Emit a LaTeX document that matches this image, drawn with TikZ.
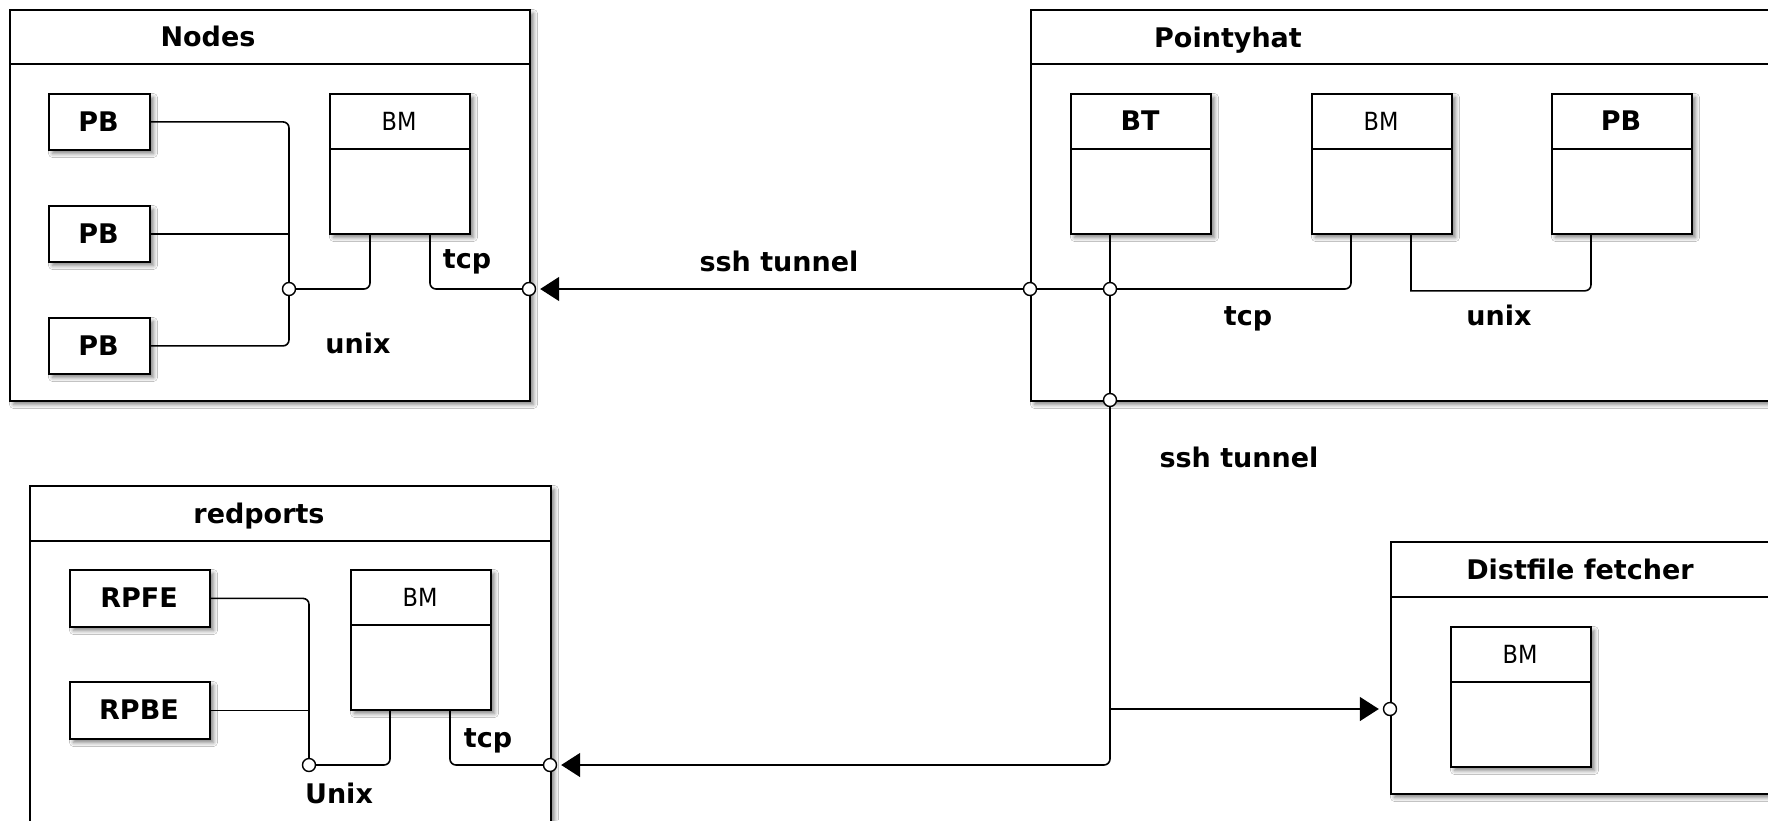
\documentclass[tikz,border=0pt]{standalone}
\usepackage{fontspec}
\setmainfont{DejaVu Sans}
\newfontfamily\bmfont[FakeStretch=0.9]{DejaVu Sans}
\usetikzlibrary{arrows.meta,calc,shadows.blur}
\tikzset{
  box/.style={draw=black, fill=white, line width=0.9pt, inner sep=0pt, anchor=north west,
    blur shadow={shadow xshift=1.8pt, shadow yshift=-1.8pt, shadow blur radius=2pt, shadow blur steps=6, shadow opacity=50}},
  conn/.style={draw=black, line width=0.8pt},
  rconn/.style={conn, rounded corners=3pt},
  port/.style={circle, draw=black, fill=white, inner sep=0pt, minimum size=6.5pt, line width=0.7pt},
  lbl/.style={font=\fontsize{13.5}{16}\selectfont\bfseries, anchor=base, inner sep=0pt},
  bmlbl/.style={font=\bmfont\fontsize{12.5}{15}\selectfont, anchor=base, inner sep=0pt},
  arr/.style={-{Triangle[length=9.5pt,width=12pt]}, shorten >=2pt},
}
\newcommand\clsbox[5]{%
  \node[box, minimum width=70pt, minimum height=70pt] (#1) at (#2,#3) {};
  \draw[line width=0.8pt] ($(#1.north west)+(0,56)$) -- ($(#1.north east)+(0,56)$);
  \node[#5] (#1t) at ($(#1.north west)+(70,37)$) {#4};
}
\begin{document}
\begin{tikzpicture}[x=0.5pt,y=-0.5pt]
\useasboundingbox (0,0) rectangle (1768,820);
\clip (0,0) rectangle (1768,820);
\fill[white] (0,0) rectangle (1768,820);

% ---------- Nodes ----------
\node[box, minimum width=260pt, minimum height=195.5pt] (nodes) at (9,9) {};
\draw[line width=0.8pt] ($(nodes.north west)+(0,55)$) -- ($(nodes.north east)+(0,55)$);
\node[lbl] (nodest) at (208,46) {Nodes};
\node[box, minimum width=50.5pt, minimum height=28pt] (pb1) at (48,93) {};
\node[box, minimum width=50.5pt, minimum height=28pt] (pb2) at (48,205) {};
\node[box, minimum width=50.5pt, minimum height=28pt] (pb3) at (48,317) {};
\node[lbl] (pb1t) at (98.5,131) {PB};
\node[lbl] (pb2t) at (98.5,243) {PB};
\node[lbl] (pb3t) at (98.5,355) {PB};
\clsbox{nbm}{329}{93}{BM}{bmlbl}

% ---------- Pointyhat ----------
\node[box, minimum width=400pt, minimum height=195.5pt] (ph) at (1030,9) {};
\draw[line width=0.8pt] ($(ph.north west)+(0,55)$) -- ($(ph.north east)+(0,55)$);
\node[lbl] (pht) at (1228,47) {Pointyhat};
\clsbox{bt}{1070}{93}{BT}{lbl}
\clsbox{pbm}{1311}{93}{BM}{bmlbl}
\clsbox{ppb}{1551}{93}{PB}{lbl}

% ---------- redports ----------
\node[box, minimum width=260.5pt, minimum height=200pt] (rp) at (29,485) {};
\draw[line width=0.8pt] ($(rp.north west)+(0,56)$) -- ($(rp.north east)+(0,56)$);
\node[lbl] (rpt) at (259,523) {redports};
\node[box, minimum width=70pt, minimum height=28.5pt] (rpfe) at (69,569) {};
\node[box, minimum width=70pt, minimum height=28.5pt] (rpbe) at (69,681) {};
\node[lbl] (rpfet) at (139,607) {RPFE};
\node[lbl] (rpbet) at (139,719) {RPBE};
\clsbox{rbm}{350}{569}{BM}{bmlbl}

% ---------- Distfile fetcher ----------
\node[box, minimum width=210pt, minimum height=126pt] (df) at (1390,541) {};
\draw[line width=0.8pt] ($(df.north west)+(0,56)$) -- ($(df.north east)+(0,56)$);
\node[lbl] (dft) at (1580,579) {Distfile fetcher};
\clsbox{dbm}{1450}{626}{BM}{bmlbl}

% ---------- ports ----------
\node[port] (nj) at (289,289) {};
\node[port] (np) at (529,289) {};
\node[port] (phl) at (1030,289) {};
\node[port] (btp) at (1110,289) {};
\node[port] (phb) at (1110,400) {};
\node[port] (rj) at (309,765) {};
\node[port] (rpp) at (550,765) {};
\node[port] (dfp) at (1390,709) {};

% ---------- Nodes connectors ----------
\draw[rconn] (pb1.east) -| (nj);
\draw[rconn] (pb3.east) -| (nj);
\draw[conn] (pb2.east) -- (pb2.east -| nj);
\draw[rconn] ($(nbm.south west)+(41,0)$) |- (nj);
\draw[rconn] ($(nbm.south west)+(101,0)$) |- (np);
\node[lbl] (ntcp) at (467,268) {tcp};
\node[lbl] (nunix) at (358,353) {unix};

% ---------- Pointyhat connectors ----------
\draw[conn] ($(bt.south west)+(40,0)$) -- (btp);
\draw[conn] (phl) -- (btp);
\draw[conn] (btp) -- (phb);
\draw[rconn] (btp) -| ($(pbm.south west)+(40,0)$);
\draw[conn] ($(pbm.south west)+(100,0)$) -- ++(0,56) [rounded corners=3pt] -| ($(ppb.south west)+(40,0)$);
\node[lbl] (ptcp) at (1248,325) {tcp};
\node[lbl] (punix) at (1499,325) {unix};

% ---------- redports connectors ----------
\draw[rconn] (rpfe.east) -| (rj);
\draw[conn] (rpbe.east) -- (rpbe.east -| rj);
\draw[rconn] ($(rbm.south west)+(40,0)$) |- (rj);
\draw[rconn] ($(rbm.south west)+(100,0)$) |- (rpp);
\node[lbl] (rtcp) at (488,747) {tcp};
\node[lbl] (runix) at (339,803) {Unix};

% ---------- tunnels ----------
\draw[conn, arr] (phl) -- (np);
\node[lbl] (ssh1) at (779,271) {ssh tunnel};
\draw[rconn, arr] (phb) |- (rpp);
\draw[conn, arr] (phb |- dfp) -- (dfp);
\node[lbl] (ssh2) at (1239,467) {ssh tunnel};
\end{tikzpicture}
\end{document}
